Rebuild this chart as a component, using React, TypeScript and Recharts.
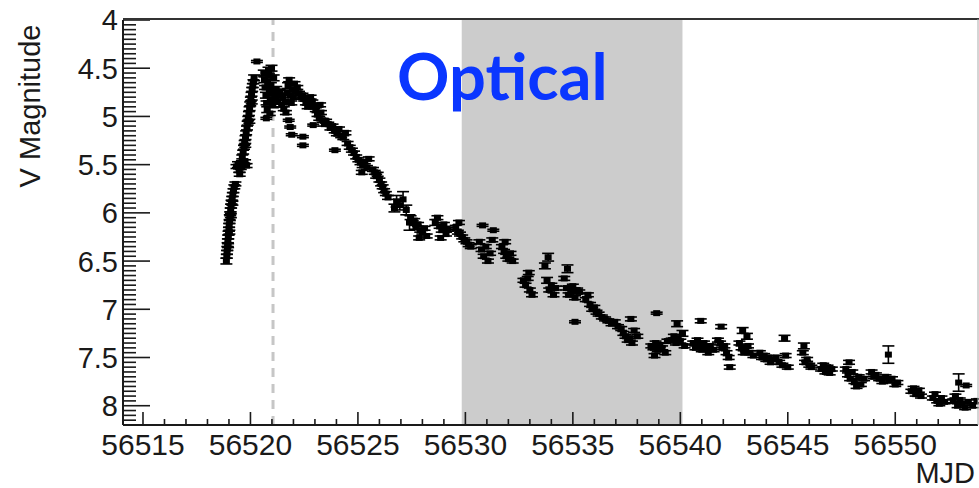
import React from 'react';
import { ScatterChart, Scatter, XAxis, YAxis, ErrorBar, ReferenceArea, ReferenceLine } from 'recharts';

// Each observation: [MJD, V magnitude, 1-sigma error]
type Obs = [number, number, number];

const risePhase: Obs[] = [
  [56518.88, 6.5, 0.03], [56518.9, 6.45, 0.02], [56518.91, 6.41, 0.02], [56518.93, 6.37, 0.02],
  [56518.94, 6.33, 0.02], [56518.95, 6.29, 0.02], [56518.97, 6.25, 0.02], [56518.98, 6.21, 0.02],
  [56519.0, 6.17, 0.02], [56519.01, 6.13, 0.02], [56519.03, 6.09, 0.02], [56519.04, 6.05, 0.03],
  [56519.06, 6.01, 0.02], [56519.08, 5.97, 0.02], [56519.1, 5.93, 0.02], [56519.12, 5.89, 0.02],
  [56519.15, 5.85, 0.02], [56519.18, 5.81, 0.02], [56519.21, 5.77, 0.02], [56519.25, 5.73, 0.02],
  [56519.3, 5.7, 0.02], [56518.96, 6.34, 0.02], [56519.02, 6.2, 0.02], [56519.09, 6.03, 0.02],
  [56519.16, 5.9, 0.02],
  [56519.35, 5.52, 0.02], [56519.42, 5.5, 0.03], [56519.48, 5.56, 0.02], [56519.55, 5.53, 0.02],
  [56519.6, 5.48, 0.02], [56519.68, 5.5, 0.02], [56519.75, 5.47, 0.02], [56519.82, 5.51, 0.02],
  [56519.5, 5.6, 0.02],
  [56519.62, 5.42, 0.02], [56519.66, 5.37, 0.02], [56519.7, 5.32, 0.02], [56519.73, 5.27, 0.02],
  [56519.77, 5.22, 0.02], [56519.8, 5.17, 0.02], [56519.84, 5.12, 0.02], [56519.87, 5.07, 0.02],
  [56519.9, 5.02, 0.02], [56519.93, 4.97, 0.02], [56519.96, 4.92, 0.02], [56519.99, 4.87, 0.02],
  [56520.02, 4.82, 0.02], [56520.05, 4.77, 0.02], [56520.08, 4.72, 0.02], [56520.11, 4.68, 0.02],
  [56520.14, 4.64, 0.02], [56520.17, 4.6, 0.03], [56519.76, 5.3, 0.02], [56519.95, 5.05, 0.02],
  [56520.06, 4.85, 0.02],
];

const peakPhase: Obs[] = [
  [56520.3, 4.43, 0.01], [56520.62, 4.55, 0.03], [56520.65, 4.62, 0.03], [56520.68, 4.7, 0.02],
  [56520.72, 4.78, 0.03], [56520.75, 4.86, 0.02], [56520.78, 4.93, 0.03], [56520.8, 4.65, 0.03],
  [56520.84, 4.52, 0.03], [56520.86, 4.58, 0.02], [56520.88, 4.75, 0.03], [56520.92, 4.82, 0.02],
  [56520.95, 4.68, 0.03], [56520.98, 4.5, 0.03], [56521.0, 4.72, 0.02], [56521.04, 4.88, 0.03],
  [56521.08, 4.6, 0.03], [56521.12, 4.76, 0.02], [56521.16, 4.8, 0.02], [56521.2, 4.72, 0.03],
  [56521.26, 4.85, 0.02], [56521.32, 4.78, 0.02], [56520.74, 5.02, 0.01], [56520.9, 4.97, 0.02],
  [56521.36, 4.74, 0.02],
  [56521.45, 4.88, 0.02], [56521.5, 4.8, 0.02], [56521.55, 4.92, 0.02], [56521.6, 4.85, 0.02],
  [56521.65, 4.96, 0.02], [56521.7, 4.75, 0.02], [56521.75, 4.68, 0.03], [56521.8, 4.62, 0.02],
  [56521.85, 4.78, 0.02], [56521.9, 4.86, 0.02], [56521.95, 4.72, 0.02], [56522.0, 4.8, 0.02],
  [56522.05, 4.66, 0.02], [56522.1, 4.74, 0.02], [56522.18, 4.7, 0.02], [56522.26, 4.76, 0.02],
  [56522.34, 4.8, 0.02], [56522.42, 4.78, 0.02], [56522.5, 4.82, 0.02], [56522.58, 4.86, 0.02],
  [56522.66, 4.9, 0.02], [56522.72, 4.84, 0.02], [56521.78, 5.04, 0.01], [56521.85, 5.11, 0.01],
  [56521.92, 5.19, 0.01], [56522.44, 5.21, 0.01], [56522.44, 5.3, 0.01],
  [56522.8, 4.8, 0.02], [56522.88, 4.85, 0.02], [56522.96, 4.9, 0.02], [56523.04, 4.93, 0.02],
  [56523.12, 4.98, 0.02], [56523.2, 5.02, 0.02], [56523.28, 4.96, 0.02], [56523.36, 5.04, 0.02],
  [56523.44, 5.08, 0.02], [56523.52, 5.05, 0.02], [56522.92, 5.09, 0.01], [56523.24, 4.88, 0.02],
];

const earlyDecline: Obs[] = [
  [56523.62, 5.08, 0.02], [56523.72, 5.12, 0.02], [56523.82, 5.1, 0.02], [56523.92, 5.15, 0.02],
  [56524.02, 5.18, 0.02], [56524.12, 5.13, 0.02], [56524.22, 5.2, 0.02], [56524.32, 5.22, 0.02],
  [56524.42, 5.17, 0.02], [56523.93, 5.35, 0.01],
  [56524.52, 5.28, 0.02], [56524.62, 5.32, 0.02], [56524.72, 5.35, 0.02], [56524.82, 5.38, 0.02],
  [56524.92, 5.42, 0.02], [56525.02, 5.45, 0.02], [56525.12, 5.48, 0.02], [56525.22, 5.51, 0.02],
  [56525.32, 5.47, 0.02], [56525.42, 5.53, 0.02], [56525.18, 5.58, 0.02], [56525.5, 5.44, 0.02],
  [56525.7, 5.55, 0.02], [56525.78, 5.58, 0.02], [56525.85, 5.62, 0.02], [56525.92, 5.6, 0.02],
  [56526.0, 5.66, 0.02], [56526.08, 5.7, 0.02], [56526.15, 5.73, 0.02], [56526.22, 5.77, 0.02],
  [56526.3, 5.8, 0.02], [56526.4, 5.84, 0.02],
  [56526.7, 5.95, 0.04], [56526.8, 5.88, 0.06], [56526.95, 5.92, 0.05], [56527.1, 5.86, 0.08],
  [56527.25, 5.97, 0.05], [56527.4, 6.1, 0.08],
  [56527.45, 6.05, 0.02], [56527.55, 6.1, 0.02], [56527.62, 6.08, 0.02], [56527.7, 6.15, 0.02],
  [56527.8, 6.12, 0.02], [56527.9, 6.18, 0.02], [56528.0, 6.2, 0.02], [56528.1, 6.16, 0.02],
  [56528.2, 6.24, 0.02], [56527.85, 6.26, 0.02],
  [56528.6, 6.1, 0.03], [56528.7, 6.05, 0.02], [56528.8, 6.14, 0.02], [56528.9, 6.18, 0.02],
  [56529.0, 6.12, 0.02], [56529.1, 6.22, 0.02], [56529.2, 6.17, 0.02], [56528.85, 6.26, 0.02],
  [56529.55, 6.15, 0.02], [56529.65, 6.2, 0.02], [56529.75, 6.22, 0.02], [56529.85, 6.25, 0.02],
  [56529.95, 6.28, 0.02], [56530.05, 6.3, 0.02], [56530.15, 6.33, 0.02], [56530.25, 6.35, 0.02],
  [56529.7, 6.1, 0.02],
];

const midDecline: Obs[] = [
  [56530.65, 6.3, 0.02], [56530.75, 6.38, 0.02], [56530.85, 6.45, 0.02], [56530.95, 6.35, 0.02],
  [56531.05, 6.5, 0.02], [56531.15, 6.42, 0.02], [56531.25, 6.28, 0.02], [56530.8, 6.13, 0.01],
  [56531.3, 6.18, 0.01],
  [56531.7, 6.35, 0.02], [56531.8, 6.4, 0.02], [56531.9, 6.45, 0.02], [56532.0, 6.48, 0.02],
  [56532.1, 6.42, 0.02], [56532.2, 6.5, 0.02], [56531.85, 6.3, 0.02],
  [56532.7, 6.7, 0.02], [56532.8, 6.75, 0.02], [56532.9, 6.68, 0.02], [56533.0, 6.8, 0.02],
  [56533.1, 6.85, 0.02], [56532.95, 6.62, 0.02],
  [56533.7, 6.55, 0.03], [56533.8, 6.7, 0.03], [56533.9, 6.8, 0.02], [56534.0, 6.75, 0.02],
  [56534.1, 6.85, 0.02], [56534.2, 6.78, 0.02], [56533.85, 6.46, 0.04],
  [56534.6, 6.68, 0.02], [56534.7, 6.78, 0.02], [56534.8, 6.85, 0.02], [56534.9, 6.82, 0.02],
  [56535.0, 6.76, 0.02], [56535.1, 6.88, 0.02], [56535.2, 6.8, 0.02], [56535.3, 6.82, 0.02],
  [56534.75, 6.58, 0.04], [56535.1, 7.13, 0.01],
  [56535.6, 6.9, 0.02], [56535.7, 6.85, 0.02], [56535.8, 6.95, 0.02], [56535.9, 7.0, 0.02],
  [56536.0, 6.98, 0.02], [56536.1, 7.03, 0.02], [56536.2, 7.05, 0.02],
  [56536.35, 7.08, 0.02], [56536.5, 7.1, 0.02], [56536.65, 7.12, 0.02], [56536.8, 7.15, 0.02],
  [56536.95, 7.13, 0.02], [56537.1, 7.18, 0.02], [56537.25, 7.2, 0.02],
  [56537.35, 7.25, 0.02], [56537.45, 7.28, 0.02], [56537.55, 7.32, 0.02], [56537.65, 7.3, 0.02],
  [56537.75, 7.35, 0.02], [56537.85, 7.22, 0.02], [56538.0, 7.28, 0.02], [56537.7, 7.1, 0.02],
  [56538.9, 7.04, 0.01],
  [56538.65, 7.38, 0.02], [56538.75, 7.4, 0.02], [56538.85, 7.35, 0.02], [56538.95, 7.42, 0.02],
  [56539.05, 7.37, 0.02], [56539.15, 7.4, 0.02], [56539.3, 7.45, 0.02], [56538.8, 7.48, 0.02],
  [56539.4, 7.33, 0.02],
  [56539.6, 7.32, 0.02], [56539.7, 7.28, 0.02], [56539.8, 7.35, 0.02], [56539.9, 7.3, 0.02],
  [56540.0, 7.33, 0.02], [56540.1, 7.25, 0.03], [56540.2, 7.38, 0.02], [56539.85, 7.15, 0.03],
];

const lateDecline: Obs[] = [
  [56540.6, 7.35, 0.02], [56540.7, 7.4, 0.02], [56540.8, 7.32, 0.02], [56540.9, 7.38, 0.02],
  [56541.0, 7.42, 0.02], [56541.1, 7.35, 0.02], [56541.2, 7.4, 0.02], [56541.3, 7.45, 0.02],
  [56541.4, 7.38, 0.02], [56541.55, 7.42, 0.02], [56540.95, 7.12, 0.02],
  [56541.75, 7.32, 0.02], [56541.85, 7.35, 0.02], [56541.95, 7.4, 0.02], [56542.05, 7.38, 0.02],
  [56542.15, 7.45, 0.02], [56542.25, 7.5, 0.02], [56542.3, 7.6, 0.02], [56541.9, 7.18, 0.02],
  [56542.75, 7.35, 0.02], [56542.85, 7.4, 0.02], [56542.95, 7.45, 0.02], [56543.05, 7.42, 0.02],
  [56543.15, 7.38, 0.02], [56543.25, 7.45, 0.02], [56543.4, 7.48, 0.02], [56542.9, 7.22, 0.03],
  [56543.1, 7.28, 0.03],
  [56543.7, 7.45, 0.02], [56543.8, 7.5, 0.02], [56543.9, 7.48, 0.02], [56544.0, 7.52, 0.02],
  [56544.1, 7.5, 0.02], [56544.2, 7.55, 0.02], [56544.3, 7.52, 0.02], [56544.45, 7.5, 0.02],
  [56544.6, 7.55, 0.02], [56544.75, 7.58, 0.02], [56544.9, 7.48, 0.02], [56545.0, 7.6, 0.02],
  [56544.85, 7.3, 0.03],
  [56545.7, 7.45, 0.02], [56545.8, 7.55, 0.02], [56545.9, 7.52, 0.02], [56546.0, 7.58, 0.02],
  [56546.1, 7.6, 0.02], [56545.75, 7.38, 0.03],
  [56546.55, 7.62, 0.02], [56546.65, 7.58, 0.02], [56546.75, 7.65, 0.02], [56546.85, 7.6, 0.02],
  [56546.95, 7.66, 0.02], [56547.05, 7.62, 0.02],
  [56547.7, 7.62, 0.02], [56547.8, 7.68, 0.02], [56547.9, 7.72, 0.02], [56548.0, 7.65, 0.02],
  [56548.1, 7.75, 0.02], [56548.2, 7.8, 0.02], [56548.3, 7.7, 0.02], [56548.4, 7.78, 0.02],
  [56548.55, 7.72, 0.02], [56547.85, 7.55, 0.02],
  [56548.9, 7.65, 0.02], [56549.0, 7.7, 0.02], [56549.1, 7.68, 0.02], [56549.25, 7.72, 0.02],
  [56549.4, 7.75, 0.02], [56549.55, 7.7, 0.02], [56549.7, 7.74, 0.02], [56549.85, 7.72, 0.02],
  [56550.0, 7.78, 0.02], [56550.1, 7.76, 0.02], [56549.68, 7.47, 0.09],
  [56550.75, 7.85, 0.02], [56550.85, 7.82, 0.02], [56550.95, 7.88, 0.02], [56551.1, 7.84, 0.02],
  [56551.2, 7.9, 0.02],
  [56551.75, 7.92, 0.02], [56551.85, 7.88, 0.02], [56551.95, 7.95, 0.02], [56552.05, 7.98, 0.02],
  [56552.15, 7.92, 0.02], [56552.3, 7.96, 0.02],
  [56552.7, 7.95, 0.02], [56552.8, 7.9, 0.02], [56552.9, 8.0, 0.02], [56553.0, 7.94, 0.02],
  [56553.1, 7.98, 0.02], [56553.25, 8.02, 0.02], [56553.4, 7.96, 0.02], [56553.6, 8.0, 0.02],
  [56553.8, 7.95, 0.02], [56552.95, 7.76, 0.09], [56553.3, 7.79, 0.01],
];

// Tick labels
const xLabelTicks = [56515, 56520, 56525, 56530, 56535, 56540, 56545, 56550];
const yLabelTicks = [4, 4.5, 5, 5.5, 6, 6.5, 7, 7.5, 8];

// Axis ranges, shaded window and reference epoch
const xDomain: [number, number] = [56514.07, 56553.85];
const yDomain: [number, number] = [4, 8.2];
const windowStart = 56529.83;
const windowEnd = 56540.1;
const referenceEpoch = 56521.05;

const xTicks: number[] = [];
for (let d = 56515; d <= 56553; d++) xTicks.push(d);
const yTicks: number[] = [];
for (let i = 0; i <= 84; i++) yTicks.push(Math.round((4 + i * 0.05) * 100) / 100);

const observations = [...risePhase, ...peakPhase, ...earlyDecline, ...midDecline, ...lateDecline].map(
  ([mjd, mag, err]) => ({ mjd, mag, err })
);

const FONT = '"Liberation Sans", Arial, Helvetica, sans-serif';
const INK = '#1a1a1a';

const YTick = (props: any) => {
  const { x, y, payload } = props;
  const v = payload.value as number;
  const major = yLabelTicks.some((t) => Math.abs(t - v) < 1e-6);
  return (
    <g>
      <line x1={x} x2={x + (major ? 27 : 13)} y1={y} y2={y} stroke={INK} strokeWidth={1.6} />
      {major && (
        <text x={x - 5} y={y} dy="0.36em" textAnchor="end" fontSize={29} fontFamily={FONT} fill={INK}>
          {v}
        </text>
      )}
    </g>
  );
};

const XTick = (props: any) => {
  const { x, y, payload } = props;
  const v = payload.value as number;
  const major = xLabelTicks.includes(v);
  return (
    <g>
      <line x1={x} x2={x} y1={y} y2={y - (major ? 13 : 6)} stroke={INK} strokeWidth={1.6} />
      {major && (
        <text x={x} y={y + 30} textAnchor="middle" fontSize={30} fontFamily={FONT} fill={INK}>
          {v}
        </text>
      )}
    </g>
  );
};

const Marker = (props: any) => {
  const { cx, cy } = props;
  return <rect x={cx - 3.5} y={cy - 3} width={7} height={6} fill="#000" />;
};

export default function App() {
  return (
    <div style={{ position: 'absolute', left: 0, top: 0, width: 979, height: 488, background: '#fff' }}>
      <ScatterChart width={979} height={488} margin={{ top: 20, right: 1, bottom: 0, left: 0 }}>
        <XAxis
          type="number"
          dataKey="mjd"
          domain={xDomain}
          allowDataOverflow
          ticks={xTicks}
          interval={0}
          height={63}
          tickSize={0}
          tickMargin={0}
          tickLine={false}
          tick={<XTick />}
          axisLine={{ stroke: INK, strokeWidth: 2 }}
        />
        <YAxis
          type="number"
          dataKey="mag"
          domain={yDomain}
          reversed
          allowDataOverflow
          ticks={yTicks}
          interval={0}
          width={123}
          tickSize={0}
          tickMargin={0}
          tickLine={false}
          tick={<YTick />}
          axisLine={{ stroke: INK, strokeWidth: 2 }}
        />
        <ReferenceArea x1={windowStart} x2={windowEnd} fill="#cccccc" fillOpacity={1} stroke="none" />
        <ReferenceLine x={referenceEpoch} stroke="#c6c6c6" strokeWidth={3} strokeDasharray="9 7" />
        <Scatter data={observations} fill="#000" shape={<Marker />} isAnimationActive={false}>
          <ErrorBar dataKey="err" direction="y" width={6} stroke="#000" strokeWidth={1.6} />
        </Scatter>
      </ScatterChart>
      <svg
        width={979}
        height={488}
        style={{ position: 'absolute', left: 0, top: 0, pointerEvents: 'none' }}
      >
        <line x1={123} x2={979} y1={19} y2={19} stroke="#333" strokeWidth={2} />
        <line x1={978} x2={978} y1={19} y2={425} stroke="#aaa" strokeWidth={1} />
        <text
          x={397}
          y={100}
          fontSize={65}
          fontWeight={700}
          fontFamily="Lato, 'Noto Sans', sans-serif"
          fill="#0a36ff"
        >
          Optical
        </text>
        <text
          transform="translate(40,106) rotate(-90)"
          textAnchor="middle"
          fontSize={29}
          fontFamily={FONT}
          fill={INK}
        >
          V Magnitude
        </text>
        <text x={975} y={483} textAnchor="end" fontSize={29} fontFamily={FONT} fill={INK}>
          MJD
        </text>
      </svg>
    </div>
  );
}
